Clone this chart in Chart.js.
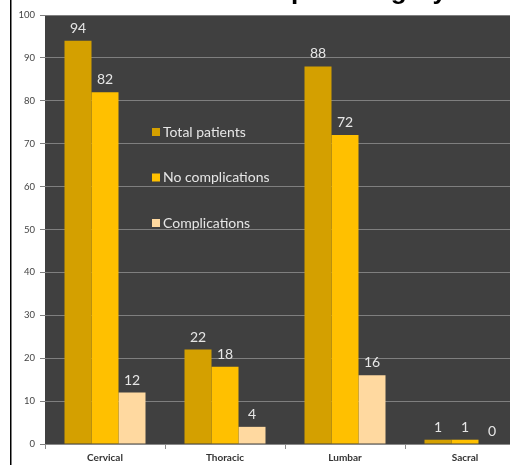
<!DOCTYPE html>
<html>
<head>
<meta charset="utf-8">
<script src="https://cdn.jsdelivr.net/npm/chart.js@4/dist/chart.umd.min.js"></script>
<style>
html,body{margin:0;padding:0;background:#fff;overflow:hidden;width:510px;height:465px;}
#wrap{position:absolute;left:0;top:0;width:530px;height:465px;}
</style>
</head>
<body>
<div id="wrap"><canvas id="c" width="530" height="465"></canvas></div>
<script>
const categories = ["Cervical", "Thoracic", "Lumbar", "Sacral"];
const totalPatients = [94, 22, 88, 1];
const noComplications = [82, 18, 72, 1];
const complications = [12, 4, 16, 0];
const seriesNames = ["Total patients", "No complications", "Complications"];
const yTicks = [0, 10, 20, 30, 40, 50, 60, 70, 80, 90, 100];
const titleText = "Distribution per category";

const colors = ["#D4A000", "#FFC000", "#FFD9A0"];
const FONT = "Lato, 'Open Sans', 'DejaVu Sans', sans-serif";

const bgPlugin = {
  id: 'bg',
  beforeDraw(chart) {
    const {ctx, chartArea: a} = chart;
    ctx.save();
    ctx.fillStyle = '#404040';
    ctx.fillRect(a.left, a.top, a.right - a.left, a.bottom - a.top);
    ctx.restore();
  },
  afterDraw(chart) {
    const {ctx} = chart;
    ctx.save();
    ctx.font = "bold 26px 'Liberation Sans', Arial, sans-serif";
    ctx.fillStyle = '#000';
    ctx.textBaseline = 'alphabetic';
    ctx.textAlign = 'left';
    const pre = ctx.measureText("Distribution ").width;
    ctx.fillText(titleText, 291 - pre, -1);
    ctx.fillStyle = '#000';
    ctx.fillRect(10, 0, 1.5, chart.height);
    ctx.restore();
  }
};

const labelPlugin = {
  id: 'vals',
  afterDatasetsDraw(chart) {
    const {ctx} = chart;
    ctx.save();
    ctx.font = "14px " + FONT;
    ctx.fillStyle = '#e6e6e6';
    ctx.textAlign = 'center';
    ctx.textBaseline = 'alphabetic';
    chart.data.datasets.forEach((ds, i) => {
      const meta = chart.getDatasetMeta(i);
      meta.data.forEach((bar, j) => {
        ctx.fillText(String(ds.data[j]), bar.x, bar.y - 8);
      });
    });
    ctx.restore();
  }
};

const legendPlugin = {
  id: 'inlegend',
  afterDatasetsDraw(chart) {
    const {ctx, chartArea: a} = chart;
    ctx.save();
    ctx.font = "14px " + FONT;
    ctx.textBaseline = 'middle';
    ctx.textAlign = 'left';
    chart.data.datasets.forEach((ds, i) => {
      const y = a.top + 117 + i * 45.5;
      const x = a.left + 107;
      ctx.fillStyle = ds.backgroundColor;
      ctx.fillRect(x, y - 4, 8, 8);
      ctx.fillStyle = '#e6e6e6';
      ctx.fillText(ds.label, x + 11, y);
    });
    ctx.restore();
  }
};

new Chart(document.getElementById('c'), {
  type: 'bar',
  data: {
    labels: categories,
    datasets: [
      {label: seriesNames[0], data: totalPatients, backgroundColor: colors[0], borderWidth: 0},
      {label: seriesNames[1], data: noComplications, backgroundColor: colors[1], borderWidth: 0},
      {label: seriesNames[2], data: complications, backgroundColor: colors[2], borderWidth: 0}
    ]
  },
  options: {
    responsive: false,
    animation: false,
    devicePixelRatio: 1,
    layout: {padding: {top: 15, right: 5, bottom: 0, left: 0}},
    categoryPercentage: 0.675,
    barPercentage: 1,
    plugins: {legend: {display: false}, title: {display: false}, tooltip: {enabled: false}},
    scales: {
      x: {
        grid: {display: true, drawOnChartArea: false, offset: true, color: '#8a8a8a', tickLength: 5},
        border: {display: true, color: '#8a8a8a'},
        ticks: {color: '#333', font: {family: FONT, size: 10, weight: 'bold'}, padding: 3},
        afterFit(s) { s.height = 21; }
      },
      y: {
        min: 0, max: 100,
        afterBuildTicks(s) { s.ticks = yTicks.map(v => ({value: v})); },
        grid: {color: '#7f7f7f', tickLength: 5},
        border: {display: false},
        ticks: {color: '#444', font: {family: FONT, size: 9.5}, padding: 5},
        afterFit(s) { s.width = 45; }
      }
    }
  },
  plugins: [bgPlugin, labelPlugin, legendPlugin]
});
</script>
</body>
</html>
